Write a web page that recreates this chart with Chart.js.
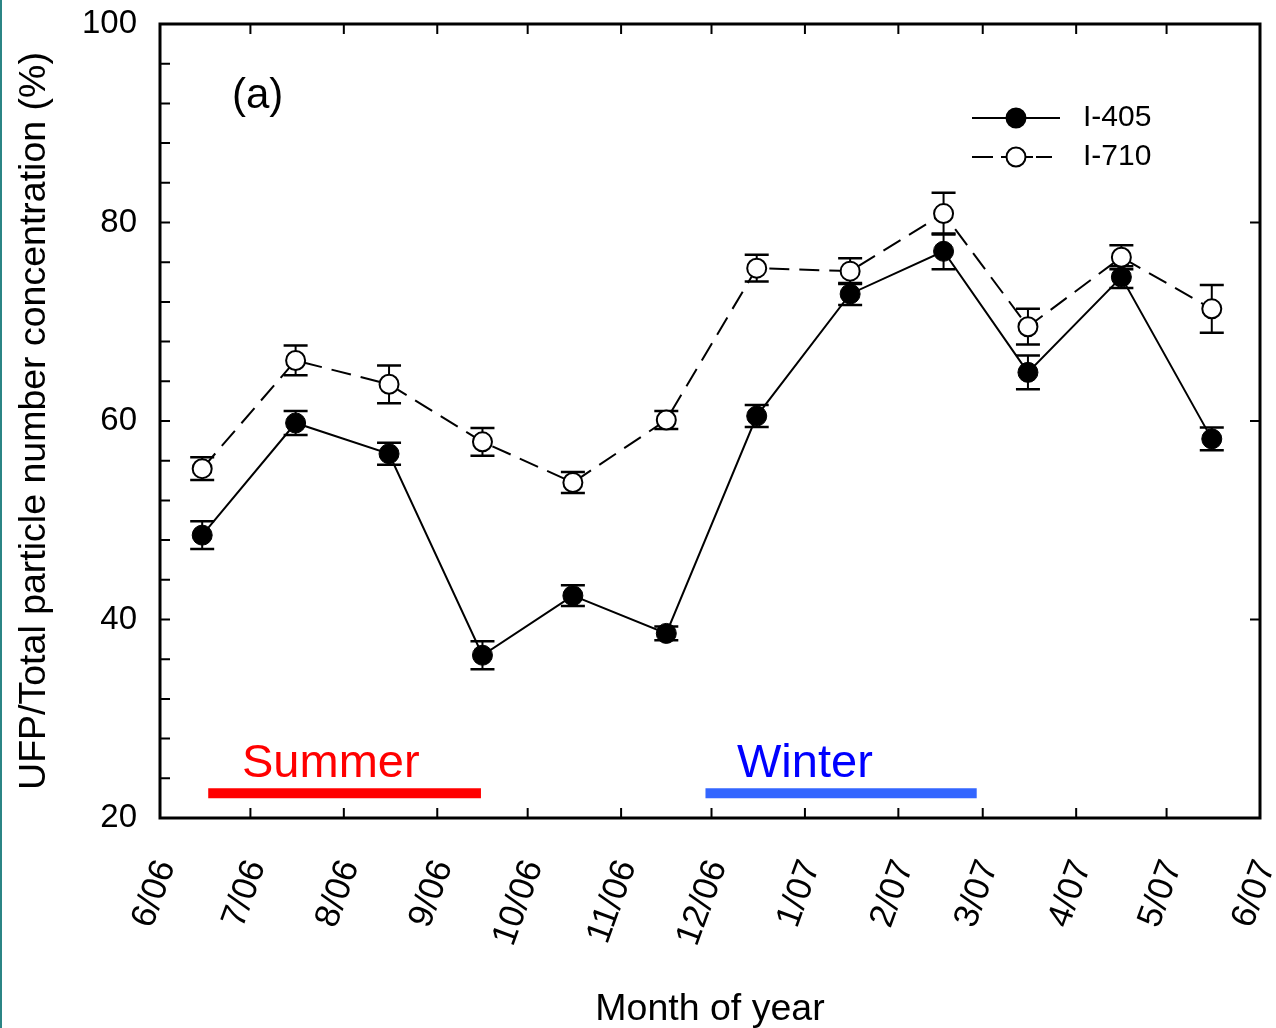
<!DOCTYPE html>
<html>
<head>
<meta charset="utf-8">
<script src="https://cdn.jsdelivr.net/npm/chart.js@4.4.0/dist/chart.umd.min.js"></script>
<style>
  html, body { margin: 0; padding: 0; background: #fff; }
  #wrap { position: relative; width: 1276px; height: 1028px; }
  #edge { position: absolute; left: 0; top: 0; width: 2px; height: 1028px; background: #2b8585; }
</style>
</head>
<body>
<div id="wrap">
  <canvas id="ufp-chart" width="1276" height="1028"></canvas>
  <div id="edge"></div>
</div>
<script>
// x axis is in days since 1 June 2006
const monthLabels = ["6/06", "7/06", "8/06", "9/06", "10/06", "11/06", "12/06", "1/07", "2/07", "3/07", "4/07", "5/07", "6/07"];
const monthStartDays = [0, 30, 61, 92, 122, 153, 183, 214, 245, 273, 304, 334, 365];
const sampleDays = [14, 45, 76, 107, 137, 168, 198, 229, 260, 288, 319, 349];

const i405Values = [48.5, 59.8, 56.7, 36.4, 42.4, 38.6, 60.5, 72.8, 77.1, 64.9, 74.5, 58.2];
const i405Errors = [1.4, 1.2, 1.1, 1.4, 1.05, 0.7, 1.1, 1.1, 1.8, 1.7, 1.1, 1.15];
const i710Values = [55.2, 66.1, 63.7, 57.9, 53.8, 60.1, 75.4, 75.1, 80.9, 69.5, 76.5, 71.3];
const i710Errors = [1.15, 1.5, 1.9, 1.4, 1.05, 0.9, 1.35, 1.3, 2.1, 1.8, 1.2, 2.4];

const summerDays = [16, 106.5];
const winterDays = [181, 271];
const seasonLevel = 22.5;

const FONT = "'Liberation Sans', Arial, sans-serif";

const toPoints = (xs, ys) => xs.map((x, i) => ({ x: x, y: ys[i] }));

// vertical error bars with caps, drawn under the markers
const errorBarPlugin = {
  id: "errorBars",
  beforeDatasetsDraw(chart) {
    const ctx = chart.ctx;
    const yScale = chart.scales.y;
    ctx.save();
    ctx.strokeStyle = "#000";
    chart.data.datasets.forEach((ds, di) => {
      if (!ds.errorBars) return;
      const meta = chart.getDatasetMeta(di);
      meta.data.forEach((pt, i) => {
        const v = ds.data[i].y;
        const e = ds.errorBars[i];
        const yTop = yScale.getPixelForValue(v + e);
        const yBot = yScale.getPixelForValue(v - e);
        ctx.lineWidth = 2;
        ctx.beginPath();
        ctx.moveTo(pt.x, yTop);
        ctx.lineTo(pt.x, yBot);
        ctx.stroke();
        ctx.lineWidth = 2.5;
        ctx.beginPath();
        ctx.moveTo(pt.x - 12, yTop);
        ctx.lineTo(pt.x + 12, yTop);
        ctx.moveTo(pt.x - 12, yBot);
        ctx.lineTo(pt.x + 12, yBot);
        ctx.stroke();
      });
    });
    ctx.restore();
  },
};

// box frame with inward ticks on all four sides
const framePlugin = {
  id: "frame",
  afterDatasetsDraw(chart) {
    const { ctx, chartArea: a, scales } = chart;
    ctx.save();
    ctx.strokeStyle = "#000";
    ctx.lineWidth = 2;
    ctx.beginPath();
    monthStartDays.forEach((d) => {
      const px = scales.x.getPixelForValue(d);
      ctx.moveTo(px, a.bottom);
      ctx.lineTo(px, a.bottom - 10);
      ctx.moveTo(px, a.top);
      ctx.lineTo(px, a.top + 10);
    });
    for (let v = 20; v <= 100; v += 4) {
      const py = scales.y.getPixelForValue(v);
      ctx.moveTo(a.left, py);
      ctx.lineTo(a.left + 10, py);
      if ((v - 20) % 20 === 0) {
        ctx.moveTo(a.right, py);
        ctx.lineTo(a.right - 10, py);
      }
    }
    ctx.stroke();
    ctx.lineWidth = 3;
    ctx.strokeRect(a.left, a.top, a.right - a.left, a.bottom - a.top);
    ctx.restore();
  },
};

const annotationPlugin = {
  id: "annotations",
  afterDraw(chart) {
    const ctx = chart.ctx;
    ctx.save();
    ctx.textBaseline = "alphabetic";
    ctx.textAlign = "left";
    ctx.fillStyle = "#000";
    ctx.font = "42px " + FONT;
    ctx.fillText("(a)", 232, 108);

    ctx.font = "47px " + FONT;
    ctx.fillStyle = "#ff0000";
    ctx.fillText("Summer", 242, 777);
    ctx.fillStyle = "#0000ff";
    ctx.fillText("Winter", 737, 777);

    // legend
    const rows = [
      { label: "I-405", y: 118, end: 1060, dash: [], fill: "#000" },
      { label: "I-710", y: 157, end: 1052, dash: [21, 8, 5, 20, 7, 3, 16, 100], fill: "#fff" },
    ];
    rows.forEach((r) => {
      ctx.strokeStyle = "#000";
      ctx.lineWidth = 2;
      ctx.setLineDash(r.dash);
      ctx.beginPath();
      ctx.moveTo(972, r.y);
      ctx.lineTo(r.end, r.y);
      ctx.stroke();
      ctx.setLineDash([]);
      ctx.beginPath();
      ctx.arc(1016, r.y, 9.5, 0, Math.PI * 2);
      ctx.fillStyle = r.fill;
      ctx.fill();
      ctx.lineWidth = 2;
      ctx.stroke();
      ctx.fillStyle = "#000";
      ctx.font = "30px " + FONT;
      ctx.textBaseline = "middle";
      ctx.fillText(r.label, 1083, r.y);
    });
    ctx.restore();
  },
};

const noPadding = (scale) => {
  scale.paddingLeft = 0;
  scale.paddingRight = 0;
  scale.paddingTop = 0;
  scale.paddingBottom = 0;
};

const ufpChart = new Chart(document.getElementById("ufp-chart"), {
  type: "line",
  data: {
    datasets: [
      {
        label: "I-405",
        data: toPoints(sampleDays, i405Values),
        errorBars: i405Errors,
        borderColor: "#000",
        borderWidth: 2,
        pointRadius: 10,
        pointBackgroundColor: "#000",
        pointBorderColor: "#000",
        pointBorderWidth: 1,
        tension: 0,
      },
      {
        label: "I-710",
        data: toPoints(sampleDays, i710Values),
        errorBars: i710Errors,
        borderColor: "#000",
        borderWidth: 2,
        borderDash: [20, 10],
        pointRadius: 9.5,
        pointBackgroundColor: "#fff",
        pointBorderColor: "#000",
        pointBorderWidth: 2,
        tension: 0,
      },
      {
        label: "Summer",
        data: toPoints(summerDays, [seasonLevel, seasonLevel]),
        borderColor: "#ff0000",
        borderWidth: 10,
        borderCapStyle: "butt",
        pointRadius: 0,
      },
      {
        label: "Winter",
        data: toPoints(winterDays, [seasonLevel, seasonLevel]),
        borderColor: "#3366ff",
        borderWidth: 10,
        borderCapStyle: "butt",
        pointRadius: 0,
      },
    ],
  },
  options: {
    responsive: false,
    animation: false,
    layout: { padding: { left: 0, right: 16, top: 24, bottom: 0 } },
    plugins: {
      legend: { display: false },
      tooltip: { enabled: false },
    },
    scales: {
      x: {
        type: "linear",
        min: 0,
        max: 365,
        afterBuildTicks: (scale) => {
          scale.ticks = monthStartDays.map((d) => ({ value: d }));
        },
        afterFit: (scale) => {
          scale.height = 210;
          noPadding(scale);
        },
        ticks: {
          autoSkip: false,
          minRotation: 70,
          maxRotation: 70,
          padding: 38,
          labelOffset: 6,
          color: "#000",
          font: { family: FONT, size: 35, lineHeight: 1 },
          callback: (value, index) => monthLabels[index],
        },
        grid: { display: false, drawTicks: false },
        border: { display: false },
        title: {
          display: true,
          text: "Month of year",
          color: "#000",
          font: { family: FONT, size: 37.5, lineHeight: 1 },
          padding: { top: 0, bottom: 0 },
        },
      },
      y: {
        min: 20,
        max: 100,
        afterFit: (scale) => {
          scale.width = 160;
          noPadding(scale);
        },
        ticks: {
          stepSize: 20,
          padding: 23,
          color: "#000",
          font: { family: FONT, size: 33, lineHeight: 1 },
        },
        grid: { display: false, drawTicks: false },
        border: { display: false },
        title: {
          display: true,
          text: "UFP/Total particle number concentration (%)",
          color: "#000",
          font: { family: FONT, size: 37.5, lineHeight: 1 },
          padding: { top: 16, bottom: 0 },
        },
      },
    },
  },
  plugins: [errorBarPlugin, framePlugin, annotationPlugin],
});
</script>
</body>
</html>
